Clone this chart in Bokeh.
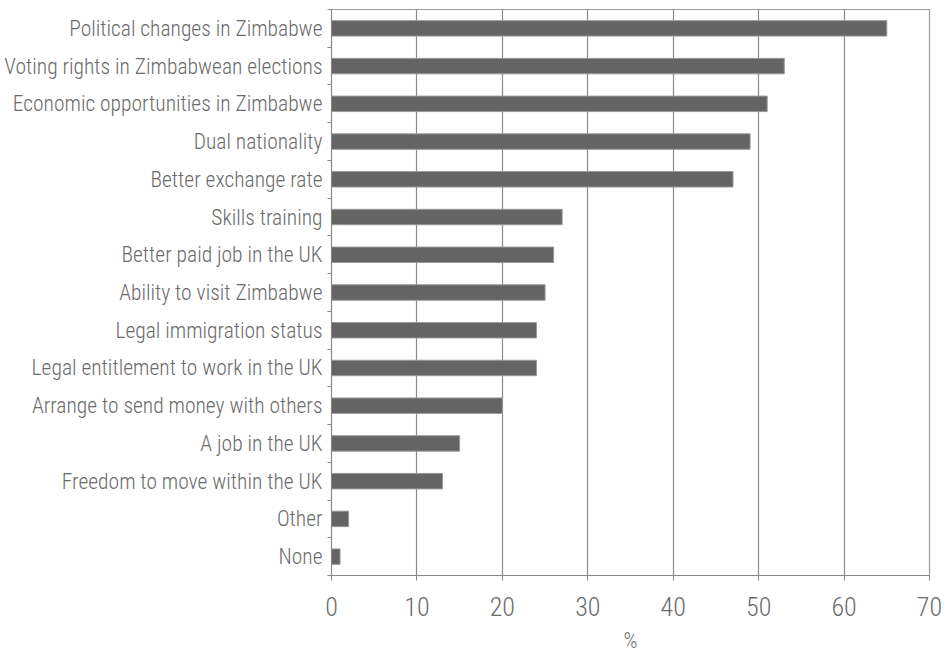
from bokeh.plotting import figure
from bokeh.models import Range1d, FixedTicker, ColumnDataSource
from bokeh.embed import file_html
from bokeh.resources import INLINE

categories = [
    "Political changes in Zimbabwe",
    "Voting rights in Zimbabwean elections",
    "Economic opportunities in Zimbabwe",
    "Dual nationality",
    "Better exchange rate",
    "Skills training",
    "Better paid job in the UK",
    "Ability to visit Zimbabwe",
    "Legal immigration status",
    "Legal entitlement to work in the UK",
    "Arrange to send money with others",
    "A job in the UK",
    "Freedom to move within the UK",
    "Other",
    "None",
]
values = [65, 53, 51, 49, 47, 27, 26, 25, 24, 24, 20, 15, 13, 2, 1]
x_ticks = [0, 10, 20, 30, 40, 50, 60, 70]
x_label = "%"

n = len(categories)
ypos = [n - i - 0.5 for i in range(n)]
src = ColumnDataSource(dict(y=ypos, v=values, cat=categories))

FONT = "Roboto Condensed Light"
TXT = "#6b6b6b"

p = figure(width=944, height=647, output_backend="svg", toolbar_location=None,
           x_range=Range1d(0, 70), y_range=Range1d(0, n),
           frame_width=598, frame_height=566,
           min_border_left=331, min_border_top=9, min_border_right=15, min_border_bottom=72)

p.hbar(y="y", right="v", left=0, height=0.41, source=src,
       fill_color="#646464", line_color="#9a9a9a", line_width=1)

p.xaxis.ticker = FixedTicker(ticks=x_ticks)
p.xaxis.axis_label = x_label
p.xaxis.axis_label_text_font = FONT
p.xaxis.axis_label_text_font_style = "normal"
p.xaxis.axis_label_text_font_size = "22px"
p.xaxis.axis_label_text_color = TXT
p.xaxis.axis_label_standoff = 9
p.xaxis.major_label_text_font = FONT
p.xaxis.major_label_text_font_size = "26px"
p.xaxis.major_label_text_color = TXT
p.xaxis.major_label_standoff = 16
p.xaxis.major_tick_out = 5
p.xaxis.major_tick_in = 0
p.xaxis.minor_tick_out = 0
p.xaxis.minor_tick_in = 0
p.xaxis.axis_line_color = "#888888"
p.xaxis.major_tick_line_color = "#888888"

p.yaxis.ticker = FixedTicker(ticks=ypos, minor_ticks=list(range(n + 1)))
p.yaxis.major_label_overrides = {y: c for y, c in zip(ypos, categories)}
p.yaxis.major_label_text_font = FONT
p.yaxis.major_label_text_font_size = "21.5px"
p.yaxis.major_label_text_color = TXT
p.yaxis.major_label_standoff = 5
p.yaxis.major_tick_out = 0
p.yaxis.major_tick_in = 0
p.yaxis.minor_tick_out = 4
p.yaxis.minor_tick_in = 0
p.yaxis.minor_tick_line_color = "#888888"
p.yaxis.axis_line_color = "#888888"

p.xgrid.grid_line_color = "#8a8a8a"
p.xgrid.grid_line_width = 1.2
p.ygrid.grid_line_color = None
p.outline_line_color = "#9a9a9a"
p.outline_line_width = 1.2

open("out.html", "w").write(file_html(p, INLINE))
